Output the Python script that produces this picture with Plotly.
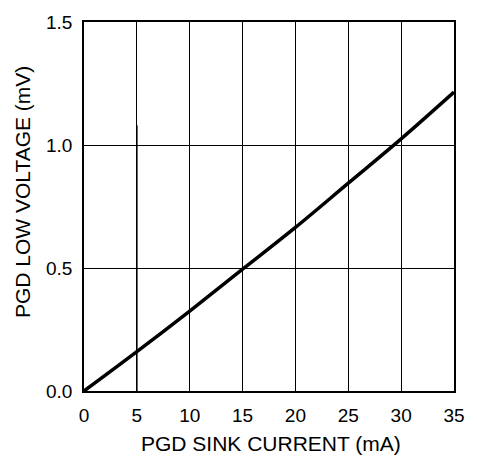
import plotly.graph_objects as go

sink_current_ma = [0, 5, 10, 15, 20, 25, 30, 35]
pgd_low_voltage_mv = [0.0, 0.16, 0.325, 0.495, 0.665, 0.845, 1.025, 1.215]

marker_x = [5, 5]
marker_y = [0.0, 1.08]

x_ticks = [0, 5, 10, 15, 20, 25, 30, 35]
y_ticks = [0.0, 0.5, 1.0, 1.5]
y_tick_labels = ["0.0", "0.5", "1.0", "1.5"]

x_title = "PGD SINK CURRENT (mA)"
y_title = "PGD LOW VOLTAGE (mV)"

fig = go.Figure()
fig.add_trace(go.Scatter(x=marker_x, y=marker_y, mode="lines",
                         line=dict(color="black", width=1.5), hoverinfo="skip"))
fig.add_trace(go.Scatter(x=sink_current_ma, y=pgd_low_voltage_mv, mode="lines",
                         line=dict(color="black", width=3.5, shape="spline")))

fam = "Liberation Sans, Arial, sans-serif"
tick_font = dict(family=fam, size=19, color="black")
title_font = dict(family=fam, size=21, color="black")

fig.update_layout(
    width=477, height=461,
    margin=dict(l=84, r=22, t=13, b=70),
    paper_bgcolor="white", plot_bgcolor="white",
    showlegend=False,
    font=tick_font,
)
fig.update_xaxes(range=[0, 35], tickvals=x_ticks, showgrid=True, gridcolor="black",
                 gridwidth=1, showline=True, linecolor="black", linewidth=1.5, mirror=True,
                 ticks="", zeroline=False, tickfont=tick_font, ticklabelstandoff=6,
                 ticklabeloverflow="allow")
fig.update_yaxes(range=[0, 1.5], tickvals=y_ticks, ticktext=y_tick_labels, showgrid=True,
                 gridcolor="black", gridwidth=1, showline=True, linecolor="black",
                 linewidth=1.5, mirror=True, ticks="", zeroline=False, tickfont=tick_font,
                 ticklabelstandoff=6, ticklabeloverflow="allow")
fig.add_annotation(text=x_title, xref="paper", yref="paper", x=0.5054, y=-0.143,
                   xanchor="center", yanchor="middle", showarrow=False, font=title_font)
fig.add_annotation(text=y_title, xref="paper", yref="paper", x=-0.166, y=0.538,
                   xanchor="center", yanchor="middle", textangle=-90, showarrow=False,
                   font=title_font)
fig.write_html("out.html", config={"displayModeBar": False},
               post_script="document.body.style.margin='0';document.body.style.overflow='hidden';")
